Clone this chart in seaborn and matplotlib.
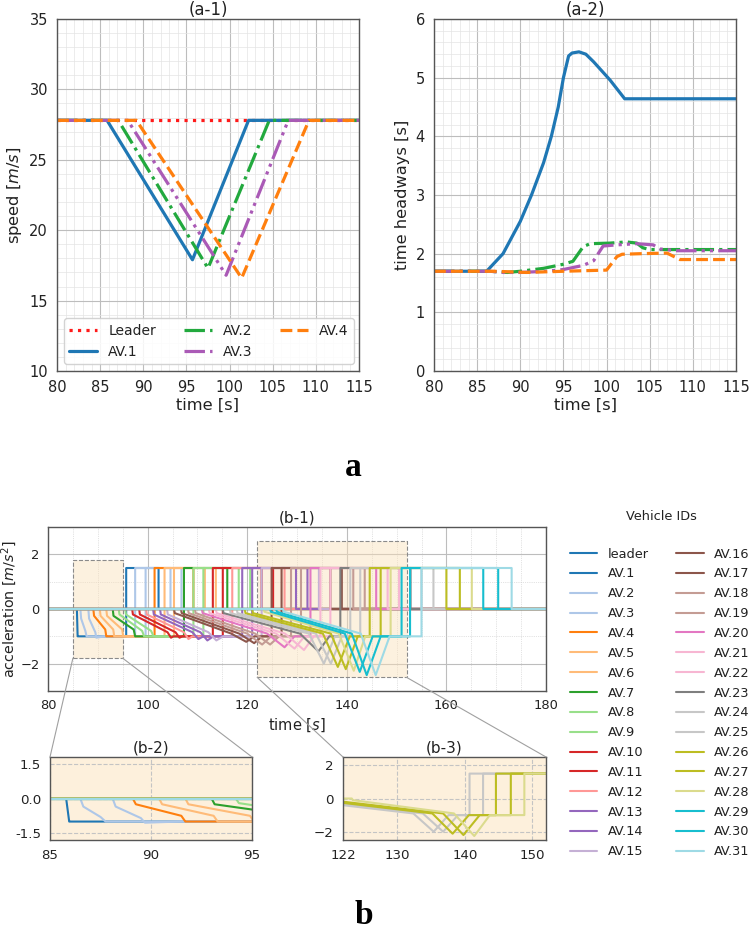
import numpy as np
import pandas as pd
import matplotlib
matplotlib.use("Agg")
import matplotlib.pyplot as plt
import seaborn as sns
from matplotlib.ticker import AutoMinorLocator, MultipleLocator, FormatStrFormatter
from matplotlib.patches import Rectangle, ConnectionPatch

# ---------------- data: panel (a-1) speed ----------------
leader_t = [80, 115]
leader_v = [27.8, 27.8]
av1_speed_t = [80, 85.8, 95.7, 102.2, 115]
av1_speed_v = [27.8, 27.8, 17.9, 27.8, 27.8]
av2_speed_t = [80, 87.1, 97.5, 104.6, 115]
av2_speed_v = [27.8, 27.8, 17.3, 27.8, 27.8]
av3_speed_t = [80, 88.2, 99.6, 106.8, 115]
av3_speed_v = [27.8, 27.8, 16.8, 27.8, 27.8]
av4_speed_t = [80, 89.2, 101.4, 109.2, 115]
av4_speed_v = [27.8, 27.8, 16.6, 27.8, 27.8]

# ---------------- data: panel (a-2) time headways ----------------
av1_head_t = [80, 86.1, 88.0, 90.0, 91.3, 92.7, 93.6, 94.4, 95.0, 95.6, 96.0, 96.8, 97.6, 98.5, 100.4, 102.1, 115]
av1_head_h = [1.7, 1.7, 2.0, 2.55, 3.0, 3.55, 4.0, 4.5, 5.0, 5.37, 5.42, 5.44, 5.4, 5.27, 4.96, 4.64, 4.64]
av2_head_t = [80, 86.5, 88.5, 90.0, 92.7, 95.0, 96.1, 97.3, 98.1, 100.4, 102.3, 103.5, 104.2, 105.0, 115]
av2_head_h = [1.7, 1.7, 1.68, 1.70, 1.75, 1.82, 1.87, 2.12, 2.17, 2.18, 2.2, 2.18, 2.1, 2.07, 2.07]
av3_head_t = [80, 86.5, 88.0, 90.0, 93.0, 95.0, 97.3, 98.5, 99.6, 101.2, 103.5, 105.4, 106.2, 108.1, 115]
av3_head_h = [1.7, 1.7, 1.68, 1.68, 1.7, 1.73, 1.8, 1.88, 2.13, 2.15, 2.17, 2.15, 2.08, 2.05, 2.05]
av4_head_t = [80, 87.0, 90.7, 95.0, 100.0, 101.2, 101.8, 104.0, 107.0, 108.5, 115]
av4_head_h = [1.7, 1.7, 1.68, 1.7, 1.72, 1.95, 1.99, 2.0, 2.01, 1.9, 1.9]

# ---------------- data: panel (b) accelerations (AV.1 .. AV.31) ----------------
vehicle_ids = ["leader"] + ["AV.%d" % i for i in range(1, 32)]
decel_start = [85.8, 86.5, 88.1, 89.1, 90.4, 91.7, 93.0, 94.2, 95.5, 96.9, 98.3, 99.7, 101.1, 102.5, 103.9,
               105.3, 106.7, 108.1, 109.5, 110.9, 112.3, 113.7, 115.1, 116.5, 117.9, 119.5, 121.0, 123.3,
               124.6, 125.8, 127.2]
first_drop = [-1.0, -0.35, -0.35, -0.25, -0.25, -0.25, -0.25, -0.2, -0.2, -0.2, -0.2, -0.2, -0.2, -0.2, -0.2,
              -0.15, -0.15, -0.15, -0.15, -0.15, -0.15, -0.15, -0.15, -0.15, -0.15, -0.15, -0.15, -0.1,
              -0.1, -0.1, -0.1]
ramp_end = [86.0, 87.5, 89.5, 91.5, 93.1, 94.9, 97.2, 98.9, 100.7, 104.0, 105.6, 107.3, 109.0, 110.6, 112.2,
            116.8, 118.4, 120.0, 121.6, 124.0, 125.8, 127.6, 130.6, 132.4, 133.8, 135.2, 136.8, 138.4,
            139.6, 141.0, 142.8]
ramp_acc = [-1.0, -0.8, -0.85, -0.75, -0.75, -0.75, -0.75, -0.8, -0.8, -0.85, -0.85, -0.85, -0.85, -0.85, -0.85,
            -0.9, -0.9, -0.9, -0.9, -0.9, -0.9, -0.9, -0.9, -0.9, -0.9, -0.9, -0.9, -0.9,
            -0.9, -0.9, -0.9]
dip_time = [86.1, 87.75, 89.7, 91.7, 93.3, 95.1, 97.5, 99.3, 101.2, 104.7, 106.4, 108.2, 110.2, 112.0, 113.8,
            119.8, 121.4, 123.0, 124.6, 127.5, 129.5, 131.4, 134.3, 135.4, 136.8, 138.2, 139.8, 141.4,
            142.6, 144.0, 145.8]
dip_acc = [-1.0, -1.0, -1.05, -1.0, -1.0, -1.0, -1.0, -1.0, -1.0, -1.05, -1.05, -1.1, -1.1, -1.15, -1.15,
           -1.2, -1.25, -1.3, -1.3, -1.4, -1.45, -1.5, -1.55, -2.0, -2.0, -2.12, -2.2, -2.26,
           -2.3, -2.42, -2.42]
recover_time = [86.2, 87.8, 91.4, 91.75, 93.35, 95.15, 97.55, 99.35, 101.25, 105.2, 107.0, 109.0, 111.2, 113.2,
                115.2, 121.5, 123.0, 124.8, 126.4, 129.5, 131.5, 133.4, 136.5, 137.6, 139.0, 140.6, 142.2,
                143.7, 145.2, 146.8, 148.6]
accel_start = [95.7, 97.5, 99.6, 101.4, 103.4, 105.3, 107.3, 109.2, 111.2, 113.1, 115.1, 117.0, 119.0, 121.0,
               122.9, 124.9, 126.9, 128.8, 130.8, 132.7, 134.7, 136.7, 138.7, 140.7, 142.7, 144.6, 146.8,
               148.8, 151.0, 152.7, 155.0]
accel_end = [102.2, 104.6, 106.8, 109.2, 111.5, 113.7, 116.0, 118.3, 120.6, 122.9, 125.2, 127.5, 129.8, 132.1,
             134.4, 136.7, 139.0, 141.3, 143.6, 145.9, 148.2, 150.5, 152.8, 155.0, 157.4, 160.0, 162.7,
             165.1, 167.4, 170.4, 173.1]
decel_level = -1.0
accel_level = 1.5
color_index = [0, 0, 1, 1, 2, 3, 3, 4, 5, 5, 6, 6, 7, 8, 8, 9, 10, 10, 11, 11, 12, 13, 13, 14, 15, 15,
               16, 16, 17, 18, 18, 19]
zoom3_vehicles = ["AV.24", "AV.25", "AV.26", "AV.27", "AV.28"]

# ---------------- build long table ----------------
rows = []
for k_, (x, y) in enumerate(zip([80, 180], [0, 0])):
    rows.append(("leader", k_, x, y))
for i in range(31):
    s = decel_start[i]
    tt = [80, s, s + 0.15, ramp_end[i], dip_time[i], recover_time[i], accel_start[i], accel_start[i],
          accel_end[i], accel_end[i], 180]
    aa = [0, 0, first_drop[i], ramp_acc[i], dip_acc[i], decel_level, decel_level, accel_level,
          accel_level, 0, 0]
    for k_, (x, y) in enumerate(zip(tt, aa)):
        rows.append((vehicle_ids[i + 1], k_, x, y))
acc_df = pd.DataFrame(rows, columns=["vehicle", "order", "time", "acc"])

# ---------------- style ----------------
sns.set_theme(style="white")
plt.rcParams["font.family"] = ["DejaVu Sans"]
plt.rcParams["mathtext.fontset"] = "dejavusans"
plt.rcParams["axes.edgecolor"] = "#555555"
plt.rcParams["text.color"] = "#222222"
plt.rcParams["axes.labelcolor"] = "#222222"

tab20 = sns.color_palette("tab20", 20)
veh_colors = [tab20[c] for c in color_index]

fig = plt.figure(figsize=(7.54, 9.33), dpi=100)
W, H = 754.0, 933.0


def axes_px(l, t, r, b):
    return fig.add_axes([l / W, 1 - b / H, (r - l) / W, (b - t) / H])


def style_axes(ax, fs, minor_grid=True, minor_ls="-", minor_col="#e4e4e4", major_col="#bdbdbd",
               major_ls="-", pad=3.0):
    ax.set_axisbelow(True)
    ax.grid(True, which="major", color=major_col, lw=0.8, ls=major_ls)
    if minor_grid:
        ax.grid(True, which="minor", color=minor_col, lw=0.5, ls=minor_ls)
    ax.tick_params(which="both", direction="out", labelsize=fs, colors="#333333",
                   labelcolor="#222222", pad=pad)
    ax.tick_params(which="major", length=3.5, width=0.8)
    ax.tick_params(which="minor", length=2, width=0.6)
    for sp in ax.spines.values():
        sp.set_color("#555555")
        sp.set_linewidth(1.0)


# ---------------- (a-1) ----------------
ax_a1 = axes_px(57, 19, 359, 371)
lw_a = 2.3
dashdotdot = (0, (6.4, 1.6, 1, 1.6, 1, 1.6))
sns.lineplot(x=leader_t, y=leader_v, ax=ax_a1, color="#ff1a1a", lw=lw_a, linestyle=":",
             label="Leader", sort=False, estimator=None, legend=False)
sns.lineplot(x=av1_speed_t, y=av1_speed_v, ax=ax_a1, color="#1f77b4", lw=lw_a, linestyle="-",
             label="AV.1", sort=False, estimator=None, legend=False)
sns.lineplot(x=av2_speed_t, y=av2_speed_v, ax=ax_a1, color="#22a93e", lw=lw_a, linestyle="-.",
             label="AV.2", sort=False, estimator=None, legend=False)
sns.lineplot(x=av3_speed_t, y=av3_speed_v, ax=ax_a1, color="#aa5ab6", lw=lw_a, linestyle=dashdotdot,
             label="AV.3", sort=False, estimator=None, legend=False)
sns.lineplot(x=av4_speed_t, y=av4_speed_v, ax=ax_a1, color="#ff7f0e", lw=lw_a, linestyle="--",
             label="AV.4", sort=False, estimator=None, legend=False)
ax_a1.set_xlim(80, 115)
ax_a1.set_ylim(10, 35)
ax_a1.xaxis.set_major_locator(MultipleLocator(5))
ax_a1.yaxis.set_major_locator(MultipleLocator(5))
ax_a1.xaxis.set_minor_locator(AutoMinorLocator(5))
ax_a1.yaxis.set_minor_locator(AutoMinorLocator(5))
style_axes(ax_a1, 10.5)
ax_a1.set_title("(a-1)", fontsize=12, pad=3)
ax_a1.set_xlabel("time [s]", fontsize=11.7, labelpad=2)
ax_a1.set_ylabel("speed [$m/s$]", fontsize=11.7, labelpad=4)
leg_a = ax_a1.legend(loc="lower left", ncol=3, fontsize=10, frameon=True, fancybox=True,
                     handlelength=2.0, columnspacing=2.0)
leg_a.get_frame().set_edgecolor("#cccccc")
leg_a.get_frame().set_alpha(0.85)

# ---------------- (a-2) ----------------
ax_a2 = axes_px(434, 19, 736, 371)
sns.lineplot(x=av1_head_t, y=av1_head_h, ax=ax_a2, color="#1f77b4", lw=lw_a, linestyle="-",
             sort=False, estimator=None, legend=False)
sns.lineplot(x=av2_head_t, y=av2_head_h, ax=ax_a2, color="#22a93e", lw=lw_a, linestyle="-.",
             sort=False, estimator=None, legend=False)
sns.lineplot(x=av3_head_t, y=av3_head_h, ax=ax_a2, color="#aa5ab6", lw=lw_a, linestyle=dashdotdot,
             sort=False, estimator=None, legend=False)
sns.lineplot(x=av4_head_t, y=av4_head_h, ax=ax_a2, color="#ff7f0e", lw=lw_a, linestyle="--",
             sort=False, estimator=None, legend=False)
ax_a2.set_xlim(80, 115)
ax_a2.set_ylim(0, 6)
ax_a2.xaxis.set_major_locator(MultipleLocator(5))
ax_a2.yaxis.set_major_locator(MultipleLocator(1))
ax_a2.xaxis.set_minor_locator(AutoMinorLocator(5))
ax_a2.yaxis.set_minor_locator(AutoMinorLocator(5))
style_axes(ax_a2, 10.5)
ax_a2.set_title("(a-2)", fontsize=12, pad=3)
ax_a2.set_xlabel("time [s]", fontsize=11.7, labelpad=2)
ax_a2.set_ylabel("time headways [s]", fontsize=11.7, labelpad=4)

fig.text(0.468, 1 - 467 / H, "a", fontfamily="Liberation Serif", fontweight="bold",
         fontsize=24, ha="center", va="center", color="black")

# ---------------- (b-1), (b-2), (b-3) ----------------
ax_b1 = axes_px(48, 527, 546, 691)
ax_b2 = axes_px(50, 757, 252, 840)
ax_b3 = axes_px(343, 757, 546, 840)
box_face = "#fdf0dc"

for ax_, vlist in [(ax_b1, vehicle_ids), (ax_b2, vehicle_ids), (ax_b3, zoom3_vehicles)]:
    for vid in vlist:
        sub = acc_df[acc_df["vehicle"] == vid].sort_values("order")
        sns.lineplot(data=sub, x="time", y="acc", ax=ax_, color=veh_colors[vehicle_ids.index(vid)],
                     lw=1.5, label=vid, sort=False, estimator=None, legend=False)

ax_b1.set_xlim(80, 180)
ax_b1.set_ylim(-3, 3)
ax_b1.xaxis.set_major_locator(MultipleLocator(20))
ax_b1.xaxis.set_minor_locator(AutoMinorLocator(4))
ax_b1.yaxis.set_major_locator(MultipleLocator(2))
ax_b1.yaxis.set_minor_locator(AutoMinorLocator(2))
style_axes(ax_b1, 9.4, minor_ls=":", minor_col="#c8c8c8", pad=2.5)
ax_b1.set_title("(b-1)", fontsize=11, pad=3)
ax_b1.set_xlabel("time [$s$]", fontsize=10.5, labelpad=3)
ax_b1.set_ylabel("acceleration [$m/s^2$]", fontsize=10.3, labelpad=1)

zoom_boxes = [(85, 95, -1.8, 1.8), (122, 152, -2.5, 2.5)]
for (x0, x1, y0, y1) in zoom_boxes:
    ax_b1.add_patch(Rectangle((x0, y0), x1 - x0, y1 - y0, facecolor=(0.98, 0.88, 0.72, 0.45),
                              edgecolor="#8a8a8a", ls="--", lw=0.8, zorder=0.8))

# (b-2)
ax_b2.set_facecolor(box_face)
ax_b2.set_xlim(85, 95)
ax_b2.set_ylim(-1.8, 1.8)
ax_b2.set_xticks([85, 90, 95])
ax_b2.set_yticks([-1.5, 0, 1.5])
ax_b2.yaxis.set_major_formatter(FormatStrFormatter("%.1f"))
ax_b2.xaxis.set_minor_locator(AutoMinorLocator(5))
style_axes(ax_b2, 9.6, minor_grid=False, major_col="#c4c4c4", major_ls="--")
ax_b2.set_title("(b-2)", fontsize=11, pad=3)
ax_b2.set_xlabel("")
ax_b2.set_ylabel("")

# (b-3)
ax_b3.set_facecolor(box_face)
ax_b3.set_xlim(122, 152)
ax_b3.set_ylim(-2.5, 2.5)
ax_b3.set_xticks([122, 130, 140, 150])
ax_b3.set_yticks([-2, 0, 2])
ax_b3.xaxis.set_minor_locator(MultipleLocator(2))
style_axes(ax_b3, 9.6, minor_grid=False, major_col="#c4c4c4", major_ls="--")
ax_b3.set_title("(b-3)", fontsize=11, pad=3)
ax_b3.set_xlabel("")
ax_b3.set_ylabel("")

# connector lines from the zoom boxes to the insets
for (x0, x1, y0, y1), axz in zip(zoom_boxes, [ax_b2, ax_b3]):
    for xa in (x0, x1):
        con = ConnectionPatch(xyA=(xa, y0), coordsA=ax_b1.transData,
                              xyB=(xa, axz.get_ylim()[1]), coordsB=axz.transData,
                              color="#a0a0a0", lw=0.8)
        fig.add_artist(con)

# legend for (b)
handles = ax_b1.get_lines()[:len(vehicle_ids)]
fig.text(661 / W, 1 - 517 / H, "Vehicle IDs", fontsize=9.3, ha="center", va="center", color="#222222")
leg_b = fig.legend(handles, vehicle_ids, loc="upper left", bbox_to_anchor=(558 / W, 1 - 536 / H),
                   ncol=2, frameon=False, fontsize=9.3,
                   labelspacing=0.53, handlelength=2.15, handletextpad=0.8, columnspacing=2.1,
                   borderpad=0.4)

fig.text(0.482, 1 - 915 / H, "b", fontfamily="Liberation Serif", fontweight="bold",
         fontsize=24, ha="center", va="center", color="black")

fig.savefig("out.png", dpi=100)
